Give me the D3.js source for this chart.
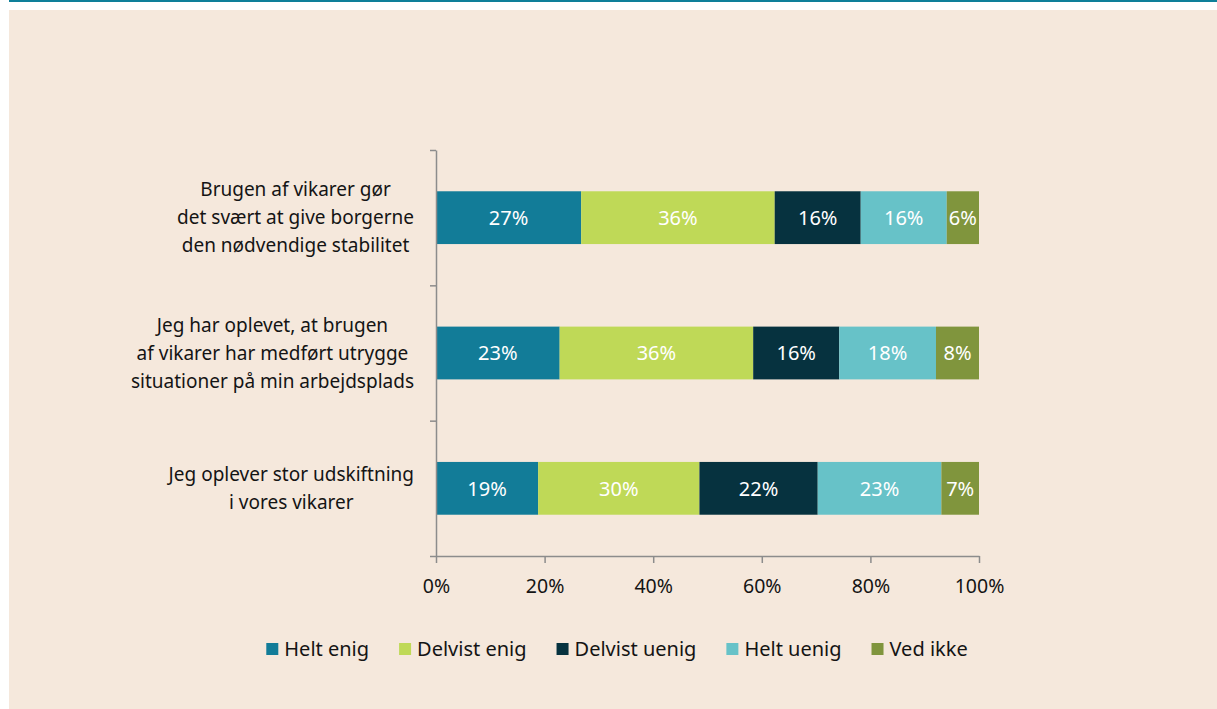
<!DOCTYPE html>
<html>
<head>
<meta charset="utf-8">
<script src="https://cdn.jsdelivr.net/npm/d3@7"></script>
<style>
  body { margin: 0; background: #fff; }
  svg { display: block; }
  text { font-family: "Noto Sans", sans-serif; }
</style>
</head>
<body>
<div id="chart"></div>
<script>
const width = 1217, height = 709;

// data
const categories = [
    ["Brugen af vikarer gør", "det svært at give borgerne", "den nødvendige stabilitet"],
    ["Jeg har oplevet, at brugen", "af vikarer har medført utrygge", "situationer på min arbejdsplads"],
    ["Jeg oplever stor udskiftning", "i vores vikarer"]
];
const seriesNames = ["Helt enig", "Delvist enig", "Delvist uenig", "Helt uenig", "Ved ikke"];
const heltEnig = [27, 23, 19];
const delvistEnig = [36, 36, 30];
const delvistUenig = [16, 16, 22];
const heltUenig = [16, 18, 23];
const vedIkke = [6, 8, 7];
const tickValues = [0, 0.2, 0.4, 0.6, 0.8, 1];
const colors = ["#127c98", "#bfd957", "#06323f", "#67c2c8", "#80953d"];

const seriesValues = [heltEnig, delvistEnig, delvistUenig, heltUenig, vedIkke];
const rows = categories.map((c, i) => {
    const r = { idx: i };
    seriesNames.forEach((s, j) => r[s] = seriesValues[j][i]);
    return r;
});

const svg = d3.select("#chart").append("svg")
    .attr("width", width)
    .attr("height", height);

// background panel and top rule
svg.append("rect").attr("x", 9).attr("y", 10).attr("width", width - 9).attr("height", height - 10)
    .attr("fill", "#f5e8dc");
svg.append("rect").attr("x", 9).attr("y", 0).attr("width", width - 9).attr("height", 2)
    .attr("fill", "#0e7f99");

const x = d3.scaleLinear().domain([0, 1]).range([436, 979]);
const y = d3.scaleBand().domain(d3.range(categories.length)).range([150, 556])
    .paddingInner(0.61).paddingOuter(0.305);

const stack = d3.stack().keys(seriesNames).offset(d3.stackOffsetExpand);
const stacked = stack(rows);

const layers = svg.append("g").selectAll("g")
    .data(stacked)
    .enter().append("g")
    .attr("fill", (d, i) => colors[i]);

layers.selectAll("rect")
    .data(d => d)
    .enter().append("rect")
    .attr("x", d => x(d[0]))
    .attr("y", d => y(d.data.idx))
    .attr("width", d => x(d[1]) - x(d[0]))
    .attr("height", y.bandwidth());

layers.selectAll("text")
    .data(d => d.map(p => ({ p: p, key: d.key })))
    .enter().append("text")
    .attr("x", d => (x(d.p[0]) + x(d.p[1])) / 2)
    .attr("y", d => y(d.p.data.idx) + y.bandwidth() / 2)
    .attr("dy", "0.36em")
    .attr("text-anchor", "middle")
    .attr("fill", "#fff")
    .style("font-size", "20px")
    .text(d => d.p.data[d.key] + "%");

// axes
const axisColor = "#8c8c8c";
const xAxis = svg.append("g")
    .attr("transform", "translate(0,556)")
    .call(d3.axisBottom(x).tickValues(tickValues).tickFormat(d3.format(".0%"))
        .tickSize(7).tickSizeOuter(0).tickPadding(16));
xAxis.select(".domain").attr("stroke", axisColor).attr("stroke-width", 1.5);
xAxis.selectAll(".tick line").attr("stroke", axisColor).attr("stroke-width", 1.5);
xAxis.selectAll(".tick text").attr("fill", "#141414").style("font-size", "19.5px")
    .style("font-family", "'Noto Sans', sans-serif");

const yEdge = d3.scaleLinear().domain([0, categories.length]).range([150, 556]);
const yAxis = svg.append("g")
    .attr("transform", "translate(436,0)")
    .call(d3.axisLeft(yEdge).tickValues(d3.range(categories.length + 1)).tickFormat("")
        .tickSize(6).tickSizeOuter(0));
yAxis.select(".domain").attr("stroke", axisColor).attr("stroke-width", 1.5);
yAxis.selectAll(".tick line").attr("stroke", axisColor).attr("stroke-width", 1.5);

// category labels: lines centred within a block right-aligned to the axis
const labelRight = 414, lineH = 28;
categories.forEach((lines, i) => {
    const g = svg.append("g");
    const cy = y(i) + y.bandwidth() / 2;
    const texts = lines.map((t, k) => g.append("text")
        .attr("y", cy + (k - (lines.length - 1) / 2) * lineH)
        .attr("dy", "0.35em")
        .attr("text-anchor", "middle")
        .attr("fill", "#141414")
        .style("font-size", "19px")
        .text(t));
    const maxW = d3.max(texts, t => t.node().getComputedTextLength());
    texts.forEach(t => t.attr("x", labelRight - maxW / 2));
});

// legend
const legend = svg.append("g");
const gap = 30;
let lx = 0;
seriesNames.forEach((s, i) => {
    const item = legend.append("g").attr("transform", `translate(${lx},0)`);
    item.append("rect").attr("x", 0).attr("y", -6).attr("width", 12).attr("height", 12)
        .attr("fill", colors[i]);
    const t = item.append("text").attr("x", 18).attr("dy", "0.35em")
        .attr("fill", "#141414").style("font-size", "20px").text(s);
    lx += 18 + t.node().getComputedTextLength() + gap;
});
const legendW = lx - gap;
legend.attr("transform", `translate(${617 - legendW / 2},649)`);
</script>
</body>
</html>
